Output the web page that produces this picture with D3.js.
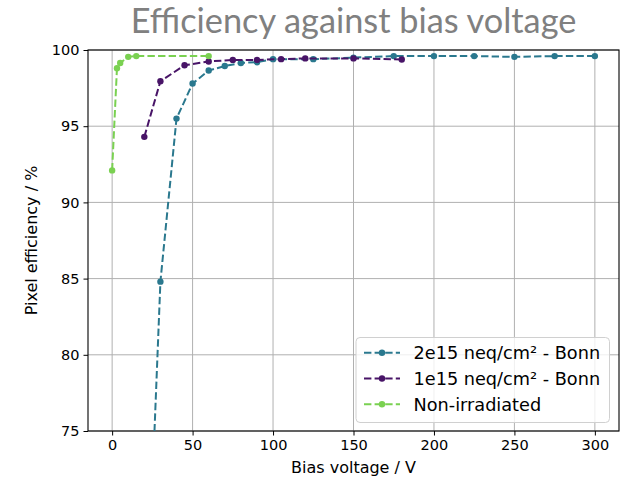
<!DOCTYPE html>
<html><head><meta charset="utf-8">
<script src="https://cdn.jsdelivr.net/npm/d3@7"></script>
<style>body{margin:0;background:#fff}svg{display:block}</style>
</head><body>
<svg id="c" width="625" height="482"></svg>
<script>
const title = "Efficiency against bias voltage";
const xLabel = "Bias voltage / V";
const yLabel = "Pixel efficiency / %";
const xTicks = [0, 50, 100, 150, 200, 250, 300];
const yTicks = [75, 80, 85, 90, 95, 100];

const seriesNames = ["2e15 neq/cm² - Bonn", "1e15 neq/cm² - Bonn", "Non-irradiated"];
const seriesColors = ["#2a788e", "#481467", "#7ad151"];

const v2e15 = [25, 30, 40, 50, 60, 70, 80, 90, 100, 125, 150, 175, 200, 225, 250, 275, 300];
const e2e15 = [71.5, 84.8, 95.5, 97.8, 98.65, 98.95, 99.15, 99.2, 99.4, 99.4, 99.5, 99.6, 99.6, 99.6, 99.55, 99.6, 99.6];
const v1e15 = [20, 30, 45, 60, 75, 90, 105, 120, 150, 180];
const e1e15 = [94.3, 97.95, 99.0, 99.25, 99.35, 99.35, 99.4, 99.45, 99.45, 99.38];
const vNon = [0, 3, 5, 10, 15, 60];
const eNon = [92.1, 98.8, 99.15, 99.55, 99.6, 99.6];

const seriesV = [v2e15, v1e15, vNon];
const seriesE = [e2e15, e1e15, eNon];

const svg = d3.select("#c");
const L = 88, R = 619, T = 50, B = 431;
const x = d3.scaleLinear().domain([-15, 315]).range([L, R]);
const y = d3.scaleLinear().domain([75, 100]).range([B, T]);

svg.append("defs").append("clipPath").attr("id", "clip")
  .append("rect").attr("x", L).attr("y", T).attr("width", R - L).attr("height", B - T);

// grid
const g = svg.append("g");
g.selectAll(".gx").data(xTicks).join("line")
  .attr("x1", d => x(d)).attr("x2", d => x(d)).attr("y1", T).attr("y2", B)
  .attr("stroke", "#b0b0b0").attr("stroke-width", 1);
g.selectAll(".gy").data(yTicks).join("line")
  .attr("x1", L).attr("x2", R).attr("y1", d => y(d)).attr("y2", d => y(d))
  .attr("stroke", "#b0b0b0").attr("stroke-width", 1);

// axes
const xa = svg.append("g").attr("transform", `translate(0,${B})`)
  .call(d3.axisBottom(x).tickValues(xTicks).tickSize(4.5).tickPadding(4).tickFormat(d3.format("d")));
const ya = svg.append("g").attr("transform", `translate(${L},0)`)
  .call(d3.axisLeft(y).tickValues(yTicks).tickSize(4.5).tickPadding(4).tickFormat(d3.format("d")));
[xa, ya].forEach(a => {
  a.select(".domain").remove();
  a.selectAll("text").attr("font-family", "DejaVu Sans").attr("font-size", 14.5).attr("fill", "#000");
  a.selectAll("line").attr("stroke", "#000").attr("stroke-width", 1);
});

// frame
svg.append("rect").attr("x", L).attr("y", T).attr("width", R - L).attr("height", B - T)
  .attr("fill", "none").attr("stroke", "#000").attr("stroke-width", 1.1);

// series
const line = d3.line().x(d => x(d[0])).y(d => y(d[1]));
const plot = svg.append("g").attr("clip-path", "url(#clip)");
seriesNames.forEach((n, i) => {
  const pts = seriesV[i].map((v, j) => [v, seriesE[i][j]]);
  plot.append("path").datum(pts).attr("d", line).attr("fill", "none")
    .attr("stroke", seriesColors[i]).attr("stroke-width", 2).attr("stroke-dasharray", "7.4,3.2");
  plot.selectAll(null).data(pts).join("circle")
    .attr("cx", d => x(d[0])).attr("cy", d => y(d[1])).attr("r", 3.2).attr("fill", seriesColors[i]);
});

// labels
svg.append("text").attr("x", (L + R) / 2).attr("y", 473).attr("text-anchor", "middle")
  .attr("font-family", "DejaVu Sans").attr("font-size", 16).text(xLabel);
svg.append("text").attr("transform", `translate(37,${(T + B) / 2}) rotate(-90)`).attr("text-anchor", "middle")
  .attr("font-family", "DejaVu Sans").attr("font-size", 16).text(yLabel);
svg.append("text").attr("x", (L + R) / 2).attr("y", 33).attr("text-anchor", "middle")
  .attr("font-family", "Lato").attr("font-size", 34.3).attr("fill", "#808080").text(title);

// legend
const lg = svg.append("g");
lg.append("rect").attr("x", 356).attr("y", 337.5).attr("width", 253.5).attr("height", 85).attr("rx", 4)
  .attr("fill", "#fff").attr("fill-opacity", 0.8).attr("stroke", "#d0d0d0");
seriesNames.forEach((n, i) => {
  const yy = 352.7 + i * 25.8;
  lg.append("line").attr("x1", 364).attr("x2", 400).attr("y1", yy).attr("y2", yy)
    .attr("stroke", seriesColors[i]).attr("stroke-width", 2).attr("stroke-dasharray", "7.4,3.2");
  lg.append("circle").attr("cx", 382).attr("cy", yy).attr("r", 3.2).attr("fill", seriesColors[i]);
  lg.append("text").attr("x", 413.5).attr("y", yy + 6.6).attr("font-family", "DejaVu Sans")
    .attr("font-size", 17.7).text(n);
});
</script>
</body></html>
